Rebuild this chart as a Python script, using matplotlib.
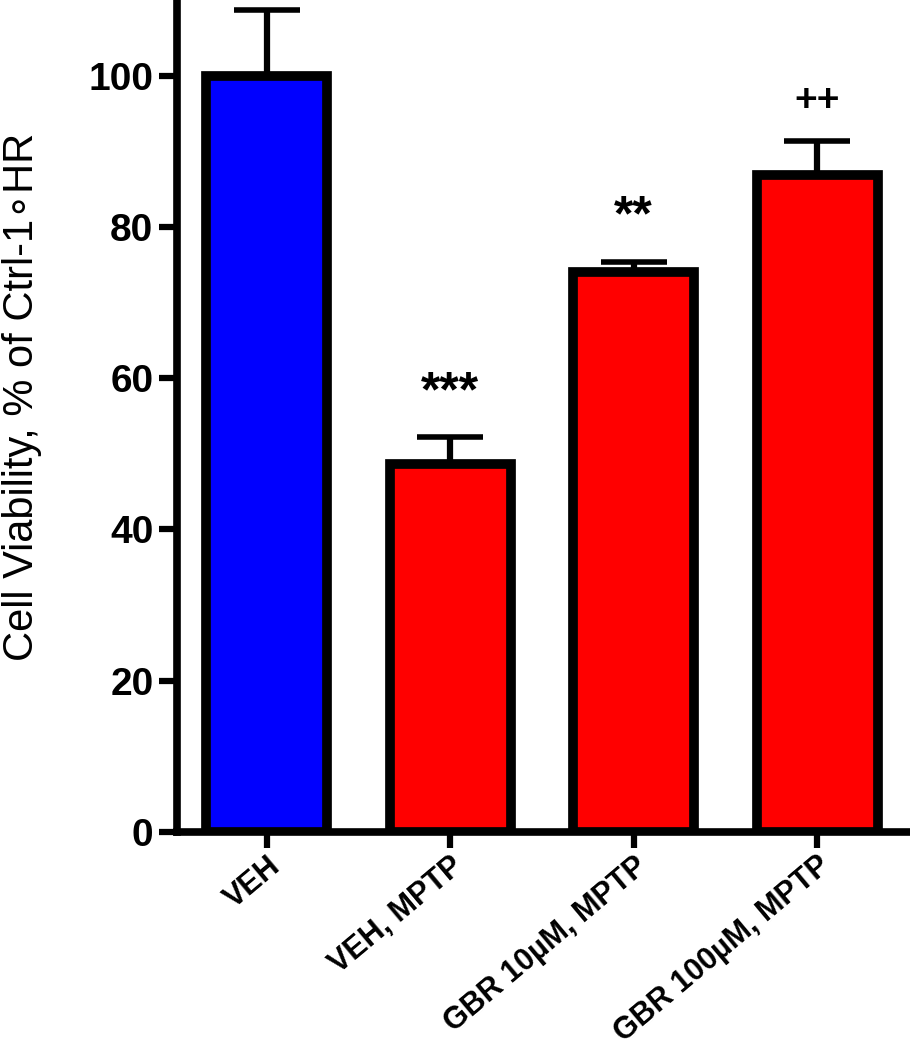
import matplotlib.pyplot as plt
import numpy as np

plt.rcParams['font.family'] = ['Liberation Sans', 'DejaVu Sans']

# values
groups = ['VEH', 'VEH, MPTP', 'GBR 10µM, MPTP', 'GBR 100µM, MPTP']
means = [100.0, 48.6, 74.0, 86.8]
sem = [8.7, 3.6, 1.3, 4.6]
colors = ['#0000ff', '#ff0000', '#ff0000', '#ff0000']
marks = ['', '***', '**', '++']
mark_y = [0, 58.0, 81.3, 96.6]
mark_size = [0, 36, 36, 28]

fig = plt.figure(figsize=(9.1, 10.5), dpi=100)
ax = fig.add_axes([0.1945, 0.2076, 0.8055, 0.7924])

x = np.arange(len(groups))
ax.bar(x, means, width=0.66, color=colors, edgecolor='black', linewidth=7, zorder=2)
# one-sided (upper) error bars
ax.errorbar(x, means, yerr=[np.zeros(len(sem)), sem], fmt='none', ecolor='black',
            elinewidth=4.5, capsize=24, capthick=4, zorder=1)

for xi, m, my, ms in zip(x, marks, mark_y, mark_size):
    if m:
        ax.text(xi, my, m, ha='center', va='center', fontsize=ms, fontweight='bold')

ax.set_xlim(-0.49, 3.507)
ax.set_ylim(0, 110)
ax.set_yticks([0, 20, 40, 60, 80, 100])
ax.set_xticks(x)
ax.set_xticklabels(groups, rotation=40, ha='right', rotation_mode='anchor',
                   fontsize=22, fontweight='bold')
for lab in ax.get_yticklabels():
    lab.set_fontweight('bold')
ax.tick_params(axis='y', labelsize=28, width=4.5, length=13, pad=4)
ax.tick_params(axis='x', width=4.5, length=11.5, pad=2)

ax.spines['top'].set_visible(False)
ax.spines['right'].set_visible(False)
ax.spines['left'].set_linewidth(5.5)
ax.spines['bottom'].set_linewidth(5.5)

ax.set_ylabel('Cell Viability, % of Ctrl-1\u2218HR', fontsize=30)
ax.yaxis.set_label_coords(-0.184, 0.523)

fig.savefig('out.png', dpi=100)
